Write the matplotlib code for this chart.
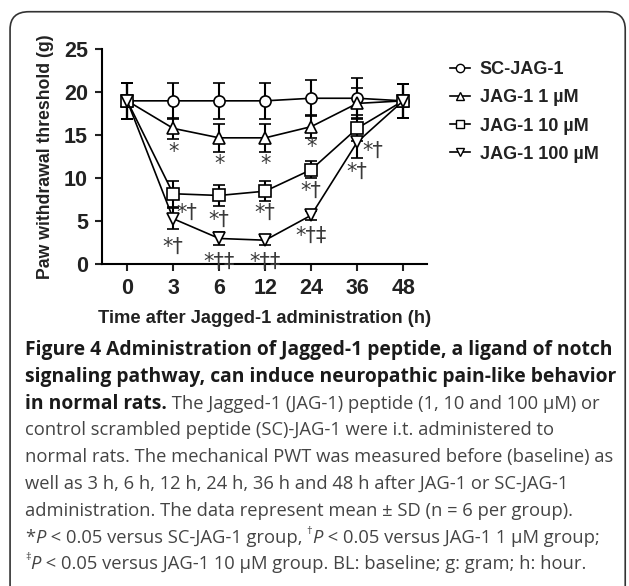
import matplotlib
matplotlib.use("Agg")
import matplotlib.pyplot as plt
from matplotlib.patches import FancyBboxPatch
from matplotlib.lines import Line2D
import numpy as np

# data
time_labels = ["0", "3", "6", "12", "24", "36", "48"]
groups = ["SC-JAG-1", "JAG-1 1 \u00b5M", "JAG-1 10 \u00b5M", "JAG-1 100 \u00b5M"]
markers = ["o", "^", "s", "v"]
sc_mean = [19.0, 19.0, 19.0, 19.0, 19.3, 19.3, 19.0]
sc_sd = [2.1, 2.1, 2.1, 2.1, 2.1, 2.3, 2.0]
j1_mean = [19.0, 15.8, 14.7, 14.7, 16.0, 18.7, 19.0]
j1_sd = [2.1, 1.2, 1.6, 1.6, 1.3, 1.8, 2.0]
j10_mean = [19.0, 8.2, 8.0, 8.5, 11.0, 15.8, 19.0]
j10_sd = [2.1, 1.5, 1.2, 1.2, 1.0, 1.5, 2.0]
j100_mean = [19.0, 5.3, 3.0, 2.8, 5.7, 14.2, 19.0]
j100_sd = [2.1, 1.2, 0.8, 0.5, 0.5, 1.9, 2.0]

means = [sc_mean, j1_mean, j10_mean, j100_mean]
sds = [sc_sd, j1_sd, j10_sd, j100_sd]

# significance marks: (time index, value level, label)
sig_idx = [1, 2, 3, 4, 1, 2, 3, 4, 1, 2, 3, 4, 5, 5]
sig_y = [13.0, 11.7, 11.7, 13.6, 6.0, 5.2, 6.0, 8.5, 2.0, 0.3, 0.3, 3.3, 13.2, 10.7]
sig_txt = ["*", "*", "*", "*", "*\u2020", "*\u2020", "*\u2020", "*\u2020",
           "*\u2020", "*\u2020\u2021", "*\u2020\u2021", "*\u2020\u2021", "*\u2020", "*\u2020"]
sig_dx = [0, 0, 0, 0, 0.3, 0, 0, 0, 0, 0, 0, 0, 0.33, 0]

plt.rcParams['font.family'] = ['Liberation Sans', 'DejaVu Sans']

fig = plt.figure(figsize=(6.29, 5.86), dpi=100)
ax = fig.add_axes([0.162, 0.549, 0.517, 0.367])

x = np.arange(len(time_labels))
for m, s, mk in zip(means, sds, markers):
    ax.errorbar(x, m, yerr=s, color='black', lw=1.2, marker=mk, ms=8,
                mfc='white', mec='black', mew=1.2, capsize=4, capthick=1.5,
                elinewidth=1.5)

for i, yv, t, dx in zip(sig_idx, sig_y, sig_txt, sig_dx):
    ax.text(x[i] + dx, yv, t, ha='center', va='center', fontsize=15,
            family=['DejaVu Sans'], color='#3a3a3a')

ax.set_xlim(-0.55, 6.52)
ax.set_ylim(0, 25)
ax.set_xticks(x)
ax.set_xticklabels(time_labels)
ax.set_yticks([0, 5, 10, 15, 20, 25])
for sp in ['top', 'right']:
    ax.spines[sp].set_visible(False)
for sp in ['left', 'bottom']:
    ax.spines[sp].set_linewidth(1.5)
ax.tick_params(width=1.5, length=5, labelsize=15.5, pad=5, colors='#222222')
for lab in ax.get_xticklabels() + ax.get_yticklabels():
    lab.set_fontweight('bold')
ax.set_ylabel("Paw withdrawal threshold (g)", fontsize=12.7, fontweight='bold', labelpad=7,
              color='#222222')
ax.set_xlabel("Time after Jagged-1 administration (h)", fontsize=13.2, fontweight='bold',
              labelpad=8, color='#222222')

handles = [Line2D([], [], color='black', lw=1.2, marker=mk, ms=6, mfc='white', mec='black')
           for mk in markers]
ax.legend(handles, groups, loc='upper left', bbox_to_anchor=(1.02, 1.02), frameon=False,
          prop={'weight': 'bold', 'size': 13}, handlelength=1.1,
          labelspacing=0.62, handletextpad=0.55, labelcolor='#222222')

# rounded frame
frame = FancyBboxPatch((0.016, -0.05), 0.978, 1.03, boxstyle="round,pad=0,rounding_size=0.03",
                       transform=fig.transFigure, fill=False, ec='#333333', lw=1.2)
fig.patches.append(frame)

# caption, pieces: (text, weight, style, superscript)
cap_font = ['Open Sans', 'DejaVu Sans']
lines = [
    [("Figure 4 Administration of Jagged-1 peptide, a ligand of notch", 'bold', 'normal', False)],
    [("signaling pathway, can induce neuropathic pain-like behavior", 'bold', 'normal', False)],
    [("in normal rats.", 'bold', 'normal', False),
     (" The Jagged-1 (JAG-1) peptide (1, 10 and 100 \u00b5M) or", 'normal', 'normal', False)],
    [("control scrambled peptide (SC)-JAG-1 were i.t. administered to", 'normal', 'normal', False)],
    [("normal rats. The mechanical PWT was measured before (baseline) as", 'normal', 'normal', False)],
    [("well as 3 h, 6 h, 12 h, 24 h, 36 h and 48 h after JAG-1 or SC-JAG-1", 'normal', 'normal', False)],
    [("administration. The data represent mean \u00b1 SD (n = 6 per group).", 'normal', 'normal', False)],
    [("*", 'normal', 'normal', False), ("P", 'normal', 'italic', False),
     (" < 0.05 versus SC-JAG-1 group, ", 'normal', 'normal', False),
     ("\u2020", 'normal', 'normal', True), ("P", 'normal', 'italic', False),
     (" < 0.05 versus JAG-1 1 \u00b5M group;", 'normal', 'normal', False)],
    [("\u2021", 'normal', 'normal', True), ("P", 'normal', 'italic', False),
     (" < 0.05 versus JAG-1 10 \u00b5M group. BL: baseline; g: gram; h: hour.", 'normal', 'normal', False)],
]
renderer = fig.canvas.get_renderer()
W, H = fig.bbox.width, fig.bbox.height


def text_width(txt, size, weight, style='normal'):
    t = fig.text(0, 0, txt, fontsize=size, fontweight=weight, fontstyle=style, family=cap_font)
    w = t.get_window_extent(renderer).width
    t.remove()
    return w


# fit font sizes so that the long lines span the same width as in the figure
target = 587
bold_size = 12 * target / text_width(lines[0][0][0], 12, 'bold')
norm_size = 12 * target / text_width(lines[4][0][0], 12, 'normal')

x0 = 25
base0 = 348
dy = 26.8
for k, pieces in enumerate(lines):
    yy = base0 + k * dy
    xx = x0
    for txt, w, st, sup in pieces:
        size = bold_size if w == 'bold' else norm_size
        if sup:
            size *= 0.6
        col = '#1a1a1a' if w == 'bold' else '#444444'
        rise = 6 if sup else 0
        t = fig.text(xx / W, 1 - (yy - rise) / H, txt, fontsize=size, fontweight=w,
                     fontstyle=st, family=cap_font, color=col, va='center_baseline', ha='left')
        xx += t.get_window_extent(renderer).width

fig.savefig("out.png", dpi=100)
